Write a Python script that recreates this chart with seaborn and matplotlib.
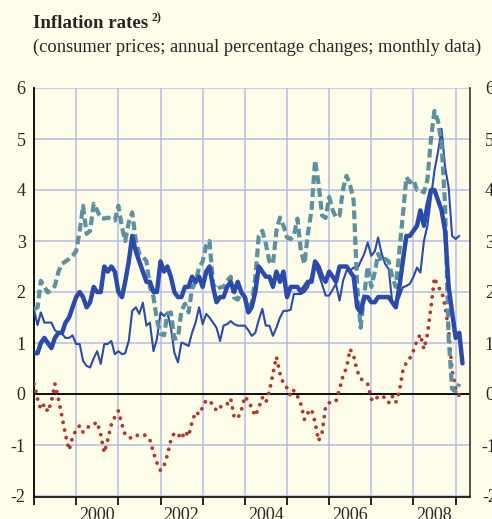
import pandas as pd
import matplotlib
matplotlib.use("Agg")
import matplotlib.pyplot as plt
import matplotlib.dates as mdates
import matplotlib.transforms as mtrans
import seaborn as sns

# ===================== style =====================
sns.set_style("white")
plt.rcParams['font.family'] = ['Liberation Serif', 'DejaVu Serif']
plt.rcParams['font.size'] = 13

BG = '#fefde9'
GRID = '#b7bbe8'
BLUE = '#2a4aac'
TEAL = '#5b91a1'
RED = '#b5372b'

# ===================== data (monthly, from Jan 1999) =====================
# thick solid line
thick_vals = [
    0.8, 0.8, 1.0, 1.1, 1.0, 0.9, 1.1, 1.2, 1.2, 1.4, 1.5, 1.7,
    1.9, 2.0, 1.9, 1.7, 1.8, 2.1, 2.0, 2.0, 2.5, 2.4, 2.5, 2.4,
    2.0, 1.9, 2.2, 2.6, 3.1, 2.8, 2.6, 2.4, 2.2, 2.2, 2.0, 2.0,
    2.6, 2.4, 2.5, 2.3, 2.0, 1.9, 1.9, 2.1, 2.1, 2.3, 2.2, 2.3,
    2.1, 2.4, 2.5, 2.1, 1.8, 1.9, 1.9, 2.1, 2.2, 2.0, 2.2, 2.0,
    1.9, 1.6, 1.7, 2.0, 2.5, 2.4, 2.3, 2.3, 2.1, 2.4, 2.2, 2.4,
    1.9, 2.1, 2.1, 2.1, 2.0, 2.1, 2.2, 2.2, 2.6, 2.5, 2.3, 2.2,
    2.4, 2.3, 2.2, 2.5, 2.5, 2.5, 2.4, 2.3, 1.7, 1.6, 1.9, 1.9,
    1.8, 1.8, 1.9, 1.9, 1.9, 1.9, 1.8, 1.7, 2.1, 2.6, 3.1, 3.1,
    3.2, 3.3, 3.6, 3.3, 3.7, 4.0, 4.0, 3.8, 3.6, 3.2, 2.1, 1.6,
    1.1, 1.2, 0.6,
]

# thin solid line
thin_vals = [
    1.65, 1.35, 1.6, 1.4, 1.4, 1.4, 1.25, 1.2, 1.18, 1.1, 1.1, 1.15,
    0.98, 0.98, 0.65, 0.55, 0.52, 0.7, 0.84, 0.59, 0.98, 0.98, 1.04, 0.78,
    0.84, 0.78, 0.8, 1.04, 1.63, 1.7, 1.57, 1.79, 1.34, 1.4, 0.84, 1.08,
    1.6, 1.53, 1.6, 1.3, 0.81, 0.62, 1.01, 0.98, 0.94, 1.2, 1.4, 1.7,
    1.37, 1.57, 1.5, 1.4, 1.3, 1.04, 1.34, 1.37, 1.43, 1.37, 1.34, 1.34,
    1.34, 1.25, 1.14, 1.2, 1.45, 1.67, 1.34, 1.34, 1.14, 1.3, 1.5, 1.63,
    1.63, 1.65, 1.96, 1.96, 1.96, 2.0, 2.09, 2.32, 2.55, 2.35, 2.15, 1.93,
    1.93, 2.05, 2.16, 1.83, 2.22, 2.42, 2.42, 2.48, 2.45, 2.6, 2.75, 2.97,
    2.71, 2.8, 3.07, 2.75, 2.55, 2.45, 1.8, 1.79, 1.9, 2.09, 2.12, 2.16,
    2.3, 2.48, 2.38, 3.0, 3.3, 3.85, 4.38, 4.75, 5.2, 4.45, 4.05, 3.1,
    3.04, 3.1,
]

# dashed line
dashed_vals = [
    1.67, 1.7, 2.22, 2.1, 1.99, 2.05, 2.12, 2.4, 2.55, 2.6, 2.65, 2.71,
    2.8, 3.2, 3.69, 3.14, 3.2, 3.73, 3.6, 3.45, 3.44, 3.46, 3.42, 3.4,
    3.69, 3.27, 3.0, 3.37, 3.56, 3.0, 2.75, 2.7, 2.6, 2.1, 1.9, 1.45,
    1.18, 1.15, 1.57, 1.6, 1.08, 1.1, 1.63, 1.77, 1.6, 2.06, 2.2, 2.48,
    2.6, 2.91, 3.0, 2.16, 2.05, 2.09, 2.1, 2.22, 2.3, 1.89, 1.85, 1.99,
    1.9, 1.77, 1.75, 2.28, 3.1, 3.2, 2.95, 2.6, 2.55, 3.2, 3.46, 3.3,
    3.07, 3.04, 3.1, 3.44, 2.81, 2.55, 3.15, 3.6, 4.58, 4.12, 3.5, 3.45,
    3.86, 3.6, 3.46, 3.5, 4.02, 4.28, 4.1, 3.8, 2.1, 1.3, 1.95, 2.5,
    2.1, 2.4, 2.75, 2.6, 2.65, 2.6, 2.3, 2.1, 2.8, 3.5, 4.25, 4.15,
    4.2, 4.0, 4.0, 3.95, 4.2, 5.0, 5.55, 5.35, 4.9, 3.7, 1.1, 0.1,
    0.05, 0.2,
]

# dotted line
dotted_vals = [
    0.2, -0.1, -0.3, -0.2, -0.35, -0.15, 0.2, -0.1, -0.45, -0.8, -1.1, -0.85,
    -0.7, -0.62, -0.75, -0.67, -0.62, -0.6, -0.55, -0.8, -1.15, -0.9, -0.6, -0.45,
    -0.33, -0.6, -0.8, -0.85, -0.87, -0.82, -0.8, -0.79, -0.82, -0.9, -1.15, -1.35,
    -1.5, -1.4, -1.2, -0.9, -0.76, -0.78, -0.88, -0.73, -0.83, -0.55, -0.35, -0.4,
    -0.26, -0.12, -0.15, -0.2, -0.33, -0.25, -0.25, -0.2, -0.09, -0.45, -0.48, -0.33,
    -0.05, -0.14, -0.27, -0.43, -0.27, -0.07, -0.17, 0.05, 0.4, 0.73, 0.4, 0.2,
    0.12, -0.04, 0.07, -0.04, -0.2, -0.5, -0.37, -0.3, -0.55, -0.92, -0.75, -0.25,
    -0.17, -0.17, -0.14, 0.1, 0.35, 0.52, 0.88, 0.75, 0.45, 0.3, 0.25, 0.19,
    -0.1, -0.14, -0.04, -0.05, -0.07, -0.17, -0.04, -0.17, 0.05, 0.45, 0.62, 0.7,
    0.85, 1.05, 1.17, 0.88, 1.17, 1.7, 2.28, 2.1, 2.02, 1.73, 1.24, 0.45,
    0.12, -0.04,
]

y_ticks = [-2, -1, 0, 1, 2, 3, 4, 5, 6]
label_years = [2000, 2002, 2004, 2006, 2008]


def monthly(vals):
    return pd.DataFrame({
        'date': pd.date_range('1999-01-01', periods=len(vals), freq='MS'),
        'value': vals,
    })


# ===================== plot =====================
fig = plt.figure(figsize=(4.92, 5.19), dpi=100, facecolor=BG)
ax = fig.add_axes([34 / 492, 1 - 496 / 519, 436 / 492, 408 / 519])
ax.set_facecolor(BG)

sns.lineplot(data=monthly(dotted_vals), x='date', y='value', ax=ax, color=RED,
             linewidth=2.8, linestyle=(0, (0.01, 2.0)), dash_capstyle='round',
             zorder=3)
sns.lineplot(data=monthly(thin_vals), x='date', y='value', ax=ax, color=BLUE,
             linewidth=1.5, zorder=4)
sns.lineplot(data=monthly(dashed_vals), x='date', y='value', ax=ax, color=TEAL,
             linewidth=3.0, linestyle=(0, (2.1, 1.0)), zorder=5)
sns.lineplot(data=monthly(thick_vals), x='date', y='value', ax=ax, color=BLUE,
             linewidth=3.2, zorder=6)

ax.axhline(0, color='black', linewidth=1.3, zorder=2)

ax.set_ylim(-2, 6)
ax.set_xlim(pd.Timestamp('1999-01-01'), pd.Timestamp('2009-05-05'))
ax.set_xlabel('')
ax.set_ylabel('')

# ticks and grid
ax.set_yticks(y_ticks)
ax.set_yticklabels([str(v) for v in y_ticks])
ax.xaxis.set_major_locator(mdates.YearLocator())
ax.xaxis.set_major_formatter(plt.NullFormatter())
ax.set_xticks([pd.Timestamp(f'{y}-07-01') for y in label_years], minor=True)
ax.set_xticklabels([str(y) for y in label_years], minor=True)
ax.grid(True, which='major', color=GRID, linewidth=1.1, zorder=0)
ax.set_axisbelow(True)

ax.tick_params(axis='x', which='major', direction='out', length=6, width=1.2,
               color='black', bottom=True)
ax.tick_params(axis='x', which='minor', length=0, pad=7, labelsize=13)
ax.tick_params(axis='y', which='major', length=0, left=False, right=False,
               labelleft=True, labelright=True, labelsize=13, pad=6)

# right-hand labels centred near the figure edge (cut off as in the original)
offset = mtrans.ScaledTranslation(11 / 100, 0, fig.dpi_scale_trans)
for t in ax.yaxis.get_major_ticks():
    t.label2.set_horizontalalignment('center')
    t.label2.set_transform(t.label2.get_transform() + offset)

ax.spines['top'].set_visible(False)
ax.spines['left'].set_color('black')
ax.spines['left'].set_linewidth(1.3)
ax.spines['right'].set_color('#444444')
ax.spines['right'].set_linewidth(1.3)
ax.spines['bottom'].set_color('black')
ax.spines['bottom'].set_linewidth(1.2)
ax.spines['bottom'].set_position(('outward', 1))

# titles
title = fig.text(33 / 492, 1 - 28 / 519, 'Inflation rates', fontsize=13.6,
                 fontweight='bold', ha='left', va='baseline')
fig.canvas.draw()
bb = title.get_window_extent(renderer=fig.canvas.get_renderer())
fig.text((bb.x1 + 3) / fig.bbox.width, 1 - 21 / 519, '2)', fontsize=8.5,
         fontweight='bold', ha='left', va='baseline')
fig.text(33 / 492, 1 - 52 / 519,
         '(consumer prices; annual percentage changes; monthly data)',
         fontsize=13.3, ha='left', va='baseline')

fig.savefig('out.png', dpi=100, facecolor=BG)
